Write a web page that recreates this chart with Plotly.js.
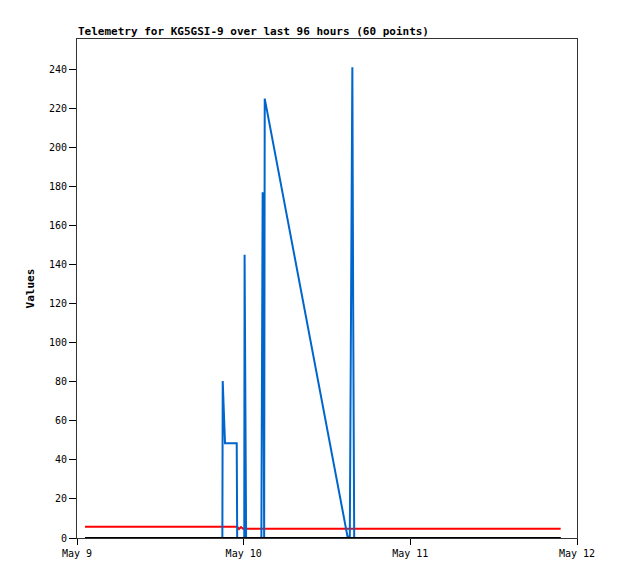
<!DOCTYPE html>
<html>
<head>
<meta charset="utf-8">
<script src="https://cdn.plot.ly/plotly-3.0.1.min.js"></script>
<style>html,body{margin:0;padding:0;background:#fff;}#chart{width:618px;height:579px;}</style>
</head>
<body>
<div id="chart"></div>
<script>
const times = [
  '2024-05-09 01:09', '2024-05-09 20:56', '2024-05-09 20:59', '2024-05-09 21:06',
  '2024-05-09 21:14', '2024-05-09 21:19', '2024-05-09 23:00', '2024-05-09 23:04',
  '2024-05-09 23:20', '2024-05-09 23:37', '2024-05-09 23:54', '2024-05-10 00:05',
  '2024-05-10 00:08', '2024-05-10 00:17', '2024-05-10 00:21', '2024-05-10 02:33',
  '2024-05-10 02:36', '2024-05-10 02:39', '2024-05-10 02:44', '2024-05-10 02:51',
  '2024-05-10 02:57', '2024-05-10 03:02', '2024-05-10 14:57', '2024-05-10 15:17',
  '2024-05-10 15:22', '2024-05-10 15:30', '2024-05-10 15:39', '2024-05-10 15:46',
  '2024-05-10 15:50', '2024-05-10 15:55', '2024-05-11 21:39'
];
const blueValues = [
  0, 0, 80.4, 72.3,
  56.3, 48.5, 48.5, 0,
  0, 0, 0, 0,
  145, 72.5, 0, 0,
  88.6, 0, 177, 112.6,
  0, 225, 0.8, 0.8,
  60, 181, 241, 120,
  60, 0, 0
];
const redValues = [
  5.7, 5.7, 5.7, 5.7,
  5.7, 5.7, 5.7, 5.7,
  4.6, 5.6, 4.7, 4.7,
  4.7, 4.7, 4.7, 4.7,
  4.7, 4.7, 4.7, 4.7,
  4.7, 4.7, 4.7, 4.7,
  4.7, 4.7, 4.7, 4.7,
  4.7, 4.7, 4.7
];
const blackValues = times.map(() => 0);
const yTicks = [0, 20, 40, 60, 80, 100, 120, 140, 160, 180, 200, 220, 240];
const xRange = ['2024-05-09 00:00', '2024-05-12 00:00'];
const titleText = 'Telemetry for KG5GSI-9 over last 96 hours (60 points)';

const mono = '"DejaVu Sans Mono", "Liberation Mono", monospace';

const traces = [
  {x: times, y: redValues, mode: 'lines', line: {color: '#ff0000', width: 2}, hoverinfo: 'skip'},
  {x: times, y: blueValues, mode: 'lines', line: {color: '#0066cc', width: 2}, hoverinfo: 'skip'},
  {x: times, y: blackValues, mode: 'lines', line: {color: '#000000', width: 2.2}, hoverinfo: 'skip'}
];

const layout = {
  width: 618, height: 579,
  margin: {l: 77, r: 41, t: 39, b: 41, pad: 0},
  paper_bgcolor: '#ffffff', plot_bgcolor: '#ffffff',
  showlegend: false,
  title: {
    text: titleText,
    font: {family: mono, size: 11, color: '#000', weight: 'bold'},
    x: 78/618, xanchor: 'left', xref: 'container',
    y: 1 - 31/579, yanchor: 'middle', yref: 'container'
  },
  xaxis: {
    type: 'date', range: xRange, dtick: 86400000, tick0: xRange[0],
    tickformat: '%b %-d',
    ticks: 'outside', ticklen: 6, tickcolor: '#000', tickwidth: 1,
    showgrid: false, zeroline: false,
    showline: true, linecolor: '#333', linewidth: 1, mirror: true,
    tickfont: {family: mono, size: 10, color: '#000'}
  },
  yaxis: {
    range: [0, 255.5], tickvals: yTicks, ticktext: yTicks.map(String),
    ticks: 'outside', ticklen: 7, tickcolor: '#000', tickwidth: 1,
    showgrid: false, zeroline: false,
    showline: true, linecolor: '#333', linewidth: 1, mirror: true,
    tickfont: {family: mono, size: 10, color: '#000'},
    title: {text: 'Values', font: {family: mono, size: 11, color: '#000', weight: 'bold'}, standoff: 12}
  }
};

Plotly.newPlot('chart', traces, layout, {staticPlot: true, displayModeBar: false});
</script>
</body>
</html>
